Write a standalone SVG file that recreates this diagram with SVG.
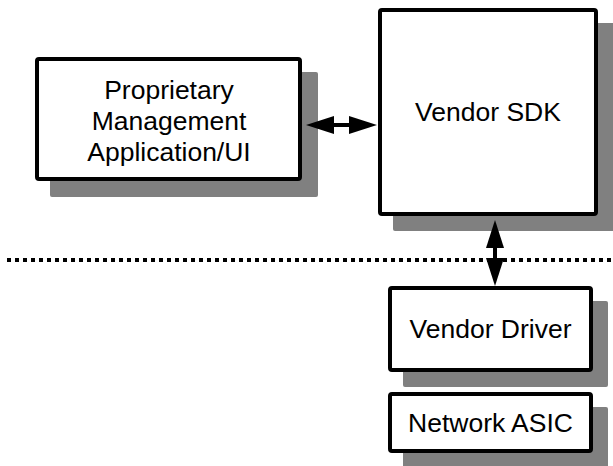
<svg xmlns="http://www.w3.org/2000/svg" width="613" height="466" viewBox="0 0 613 466">
<defs>
<style>
.shadow{fill:#808080;}
.box{fill:#fff;stroke:#000;stroke-width:4;}
.lbl{font-family:"Liberation Sans",Arial,sans-serif;font-size:26.5px;fill:#000;text-anchor:middle;}
.conn{stroke:#000;stroke-width:4;fill:none;}
.dots{stroke:#000;stroke-width:4;stroke-dasharray:4 4;fill:none;}
</style>
<marker id="ah" markerUnits="userSpaceOnUse" markerWidth="29" markerHeight="18" refX="1" refY="9" orient="auto-start-reverse" overflow="visible">
<path d="M0,0 L28,9 L0,18 Z" fill="#000"/>
</marker>
</defs>
<rect width="613" height="466" fill="#fff"/>
<g id="app">
<rect class="shadow" x="50" y="72" width="268" height="125" rx="2"/>
<rect class="box" x="37" y="59" width="263" height="120" rx="2"/>
<text class="lbl" x="169" y="99">Proprietary</text>
<text class="lbl" x="169" y="130">Management</text>
<text class="lbl" x="169" y="161">Application/UI</text>
</g>
<g id="sdk">
<rect class="shadow" x="393" y="23" width="222" height="208" rx="2"/>
<rect class="box" x="380" y="10" width="216" height="204" rx="2"/>
<text class="lbl" x="488" y="121">Vendor SDK</text>
</g>
<g id="driver">
<rect class="shadow" x="403" y="301" width="205" height="86" rx="2"/>
<rect class="box" x="390" y="288" width="201" height="82" rx="2"/>
<text class="lbl" x="490.5" y="338">Vendor Driver</text>
</g>
<g id="asic">
<rect class="shadow" x="403" y="407" width="205" height="61" rx="2"/>
<rect class="box" x="390" y="394" width="201" height="57" rx="2"/>
<text class="lbl" x="490.5" y="432">Network ASIC</text>
</g>
<g id="connectors">
<line class="dots" x1="7" y1="260" x2="613" y2="260"/>
<line class="conn" x1="333" y1="125" x2="350" y2="125" marker-start="url(#ah)" marker-end="url(#ah)"/>
<line class="conn" x1="495" y1="247" x2="495" y2="259" marker-start="url(#ah)" marker-end="url(#ah)"/>
</g>
</svg>
